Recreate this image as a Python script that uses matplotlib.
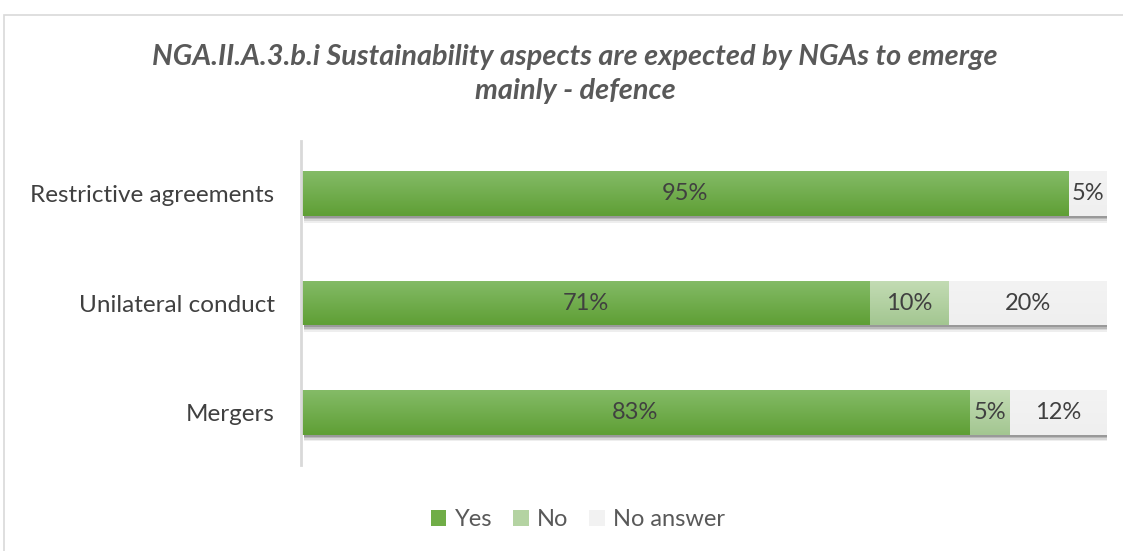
import matplotlib
matplotlib.use('Agg')
import matplotlib.pyplot as plt
from matplotlib.patches import Rectangle
import numpy as np

# ----------------------------------------------------------------------------------------------------------------------
#  DATA
# ----------------------------------------------------------------------------------------------------------------------
categories = ['Restrictive agreements', 'Unilateral conduct', 'Mergers']
yes_share  = [0.953, 0.706, 0.830]
no_share   = [0.000, 0.098, 0.050]
na_share   = [0.047, 0.196, 0.120]
series     = ['Yes', 'No', 'No answer']
title_text = 'NGA.II.A.3.b.i Sustainability aspects are expected by NGAs to emerge\nmainly - defence'

# ----------------------------------------------------------------------------------------------------------------------
#  STYLE
# ----------------------------------------------------------------------------------------------------------------------
plt.rcParams['font.family'] = ['Lato', 'DejaVu Sans']
text_color  = '#404040'
# (top colour, bottom colour) of the gradient in each segment
grad_colors = [('#84bb67', '#5f9f35'),
               ('#c3dcb4', '#a3c691'),
               ('#f3f3f3', '#efefef')]
flat_colors = ['#70ad47', '#b4d3a2', '#f2f2f2']

fig = plt.figure(figsize=(11.23, 5.51), dpi=100)
fig.patch.set_facecolor('white')
fig.patches.append(Rectangle((4 / 1123, -0.1), 1.2, 536 / 551 + 0.1, transform=fig.transFigure,
                             fill=False, edgecolor='#d9d9d9', linewidth=1.2, zorder=0))

ax = fig.add_axes([301 / 1123, 1 - 465 / 551, 806 / 1123, 324 / 551])
ax.set_xlim(0, 1)
ax.set_ylim(-0.48, 2.48)

y_pos   = np.arange(len(categories))[::-1]
bar_h   = 0.41
data    = [yes_share, no_share, na_share]
left    = np.zeros(len(categories))

# soft shadow under each full bar
totals = np.sum(data, axis=0)
for s, a in [(0.06, 0.10), (0.045, 0.16), (0.03, 0.25), (0.015, 0.35)]:
    ax.barh(y_pos - s, totals, left=0.004, height=bar_h, color='#606060', alpha=a,
            edgecolor='none', zorder=2)

# row 0 = bottom of the bar (origin='lower')
grad = np.linspace(0, 1, 64).reshape(-1, 1)
for k, vals in enumerate(data):
    vals = np.array(vals)
    bars = ax.barh(y_pos, vals, left=left, height=bar_h, color=flat_colors[k], edgecolor='none', zorder=3)
    c_top = np.array(matplotlib.colors.to_rgb(grad_colors[k][0]))
    c_bot = np.array(matplotlib.colors.to_rgb(grad_colors[k][1]))
    img = (c_bot[None, None, :] * (1 - grad[:, :, None]) + c_top[None, None, :] * grad[:, :, None])
    for b, v, l, y in zip(bars, vals, left, y_pos):
        if v <= 0:
            continue
        im = ax.imshow(img, extent=(l, l + v, y - bar_h / 2, y + bar_h / 2), origin='lower',
                       aspect='auto', interpolation='bilinear', zorder=4)
        im.set_clip_path(b)
        ax.text(l + v / 2, y, '{:.0%}'.format(v), ha='center', va='center', fontsize=17,
                color=text_color, zorder=5)
    left = left + vals

ax.set_xlim(0, 1)
ax.set_ylim(-0.48, 2.48)
ax.set_yticks(y_pos)
ax.set_yticklabels(categories, fontsize=17.5, color=text_color)
ax.tick_params(axis='y', length=0, pad=19)
ax.set_xticks([])
for sp in ['top', 'right', 'bottom']:
    ax.spines[sp].set_visible(False)
ax.spines['left'].set_color('#d9d9d9')
ax.spines['left'].set_linewidth(2)
ax.spines['left'].set_zorder(6)
ax.set_facecolor('none')

fig.text(575 / 1123, 1 - 74 / 551, title_text, ha='center', va='center', fontsize=20.8,
         fontweight='bold', fontstyle='italic', color='#595959', linespacing=1.4)

handles = [Rectangle((0, 0), 1, 1, facecolor=c, edgecolor='none') for c in flat_colors]
fig.legend(handles, series, loc='center', bbox_to_anchor=(578 / 1123, 1 - 520 / 551), ncol=3,
           frameon=False, fontsize=17, labelcolor='#595959', handlelength=0.65, handleheight=0.65,
           handletextpad=0.35, columnspacing=0.9)

fig.savefig('out.png', dpi=100)
